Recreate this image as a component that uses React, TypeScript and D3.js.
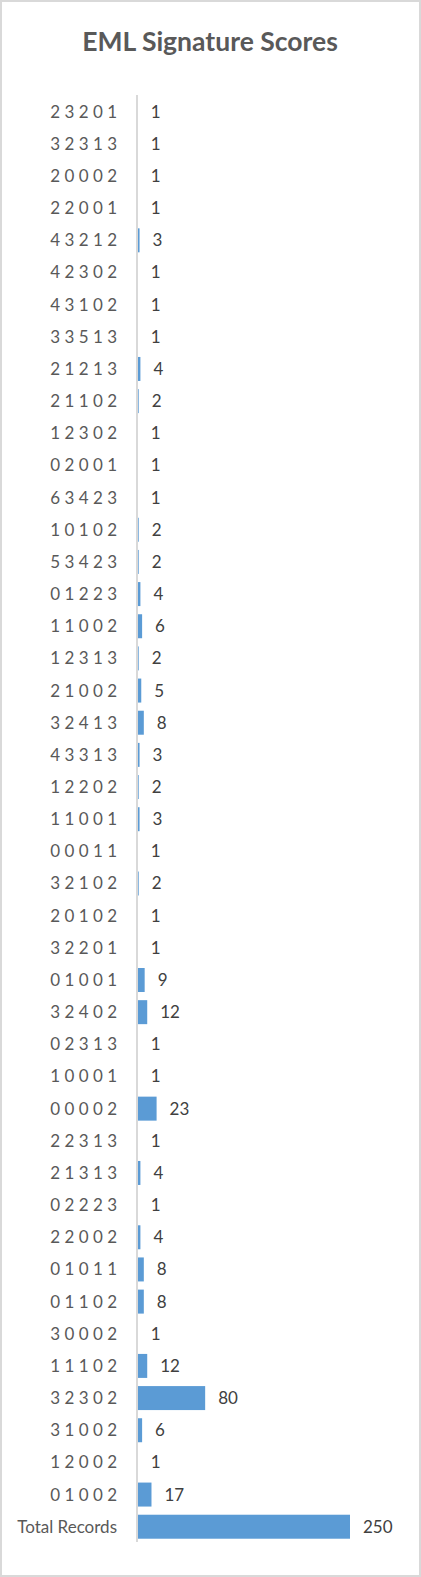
import React from "react";
import * as d3 from "d3";

const categories = [
  "2 3 2 0 1", "3 2 3 1 3", "2 0 0 0 2", "2 2 0 0 1", "4 3 2 1 2",
  "4 2 3 0 2", "4 3 1 0 2", "3 3 5 1 3", "2 1 2 1 3", "2 1 1 0 2",
  "1 2 3 0 2", "0 2 0 0 1", "6 3 4 2 3", "1 0 1 0 2", "5 3 4 2 3",
  "0 1 2 2 3", "1 1 0 0 2", "1 2 3 1 3", "2 1 0 0 2", "3 2 4 1 3",
  "4 3 3 1 3", "1 2 2 0 2", "1 1 0 0 1", "0 0 0 1 1", "3 2 1 0 2",
  "2 0 1 0 2", "3 2 2 0 1", "0 1 0 0 1", "3 2 4 0 2", "0 2 3 1 3",
  "1 0 0 0 1", "0 0 0 0 2", "2 2 3 1 3", "2 1 3 1 3", "0 2 2 2 3",
  "2 2 0 0 2", "0 1 0 1 1", "0 1 1 0 2", "3 0 0 0 2", "1 1 1 0 2",
  "3 2 3 0 2", "3 1 0 0 2", "1 2 0 0 2", "0 1 0 0 2", "Total Records",
];

const counts = [
  1, 1, 1, 1, 3,
  1, 1, 1, 4, 2,
  1, 1, 1, 2, 2,
  4, 6, 2, 5, 8,
  3, 2, 3, 1, 2,
  1, 1, 9, 12, 1,
  1, 23, 1, 4, 1,
  4, 8, 8, 1, 12,
  80, 6, 1, 17, 250,
];

const title = "EML Signature Scores";

const W = 421;
const H = 1577;
const FONT = "Lato, Carlito, Calibri, sans-serif";

export default function App() {
  const y = d3.scaleBand<string>()
    .domain(categories)
    .range([95.6, 1542.8])
    .paddingInner(0.254)
    .paddingOuter(0.127);

  const x = d3.scaleLinear().domain([0, 250]).range([137, 350]);

  return (
    <div style={{ position: "absolute", left: 0, top: 0 }}>
      <svg width={W} height={H} style={{ display: "block" }}>
        <rect x={0} y={0} width={W} height={H} fill="#ffffff" />
        <rect x={1} y={1} width={W - 2} height={H - 2} fill="none" stroke="#d9d9d9" strokeWidth={2} />
        <text
          x={210}
          y={51}
          textAnchor="middle"
          fontFamily={FONT}
          fontWeight="bold"
          fontSize={26.5}
          fill="#595959"
        >
          {title}
        </text>

        {categories.map((c, i) => {
          const yc = (y(c) ?? 0) + y.bandwidth() / 2;
          return (
            <g key={c}>
              <rect
                x={x(0)}
                y={y(c)}
                width={x(counts[i]) - x(0)}
                height={y.bandwidth()}
                fill="#5b9bd5"
              />
              <text
                x={117}
                y={yc}
                dy="0.35em"
                textAnchor="end"
                fontFamily={FONT}
                fontSize={17}
                fill="#595959"
              >
                {c}
              </text>
              <text
                x={x(counts[i]) + 13}
                y={yc}
                dy="0.35em"
                fontFamily={FONT}
                fontSize={17}
                fill="#404040"
              >
                {counts[i]}
              </text>
            </g>
          );
        })}

        <line x1={x(0)} x2={x(0)} y1={95} y2={1542} stroke="#d9d9d9" strokeWidth={2} />
      </svg>
    </div>
  );
}
